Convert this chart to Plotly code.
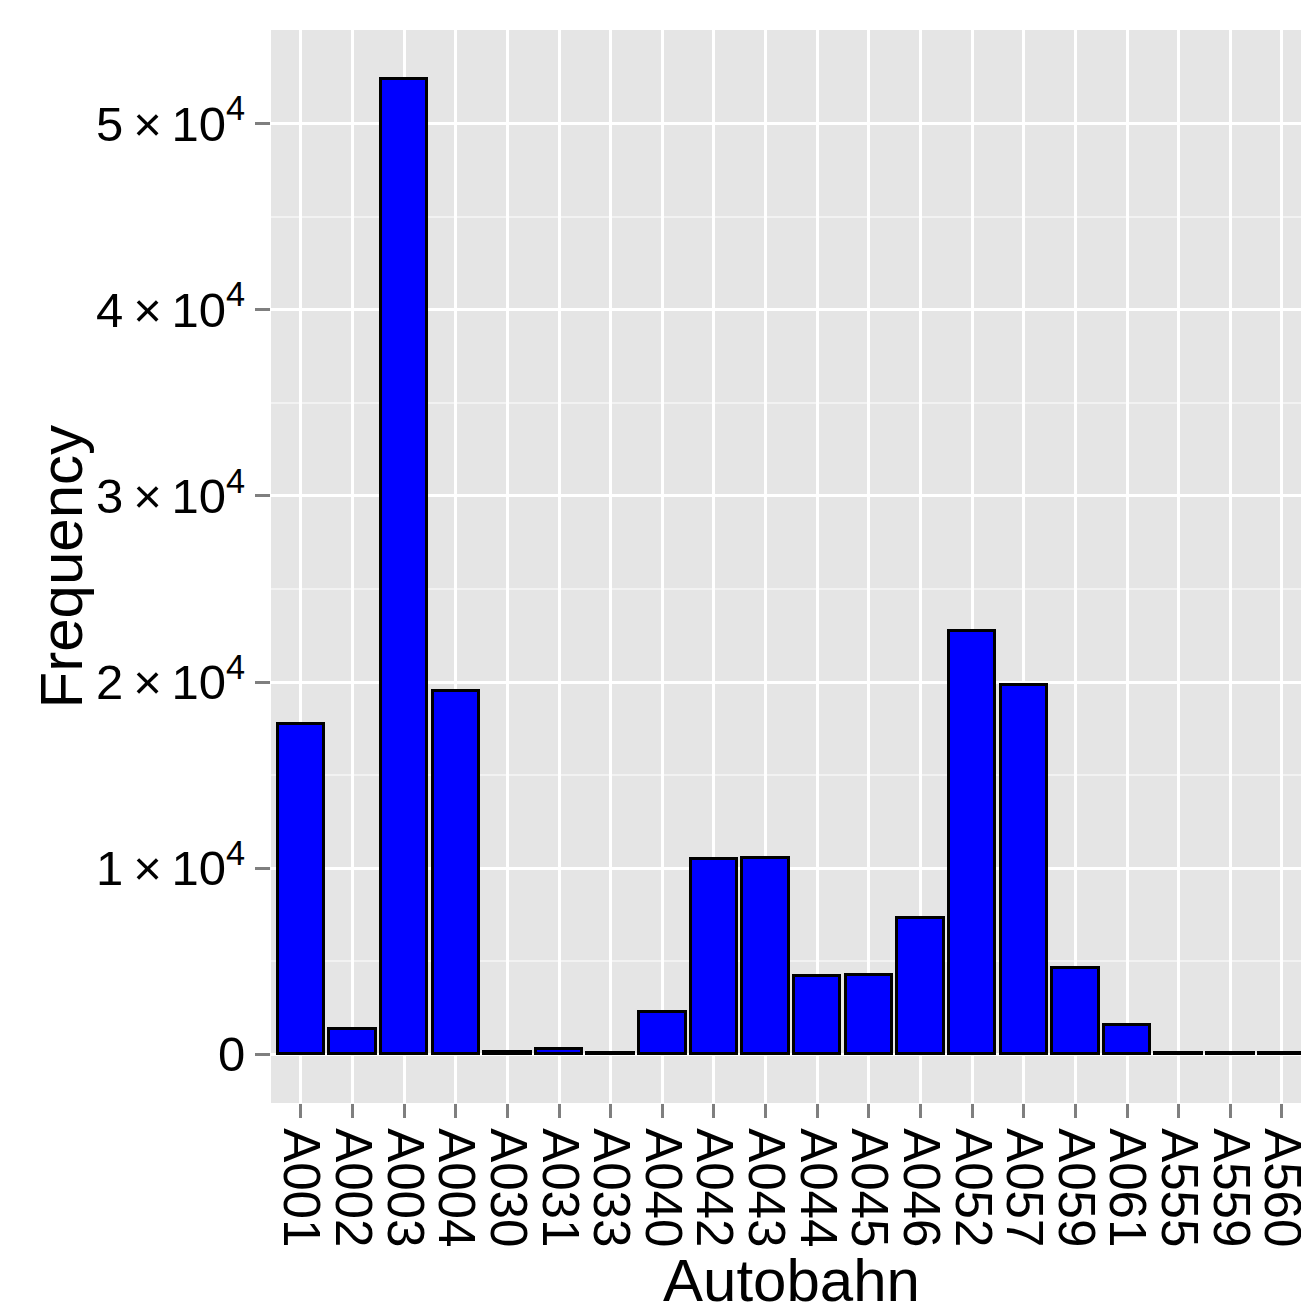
import plotly.graph_objects as go

categories = ["A001", "A002", "A003", "A004", "A030", "A031", "A033", "A040", "A042", "A043",
              "A044", "A045", "A046", "A052", "A057", "A059", "A061", "A555", "A559", "A560"]
frequency = [17720, 1340, 52420, 19500, 100, 270, 90, 2260, 10470, 10530,
             4190, 4240, 7300, 22770, 19820, 4620, 1560, 40, 40, 40]

ytick_vals = [0, 10000, 20000, 30000, 40000, 50000]
ytick_text = ["0", "1\u2009×\u200910<sup>4</sup>", "2\u2009×\u200910<sup>4</sup>",
              "3\u2009×\u200910<sup>4</sup>", "4\u2009×\u200910<sup>4</sup>",
              "5\u2009×\u200910<sup>4</sup>"]

FONT = "Liberation Sans, Arial, Helvetica, sans-serif"

fig = go.Figure(go.Bar(
    x=categories, y=frequency, width=0.9,
    marker=dict(color="#0000FF", line=dict(color="black", width=3)),
))

fig.update_layout(
    width=1301, height=1306,
    margin=dict(l=271, r=0, t=30, b=203, autoexpand=False),
    paper_bgcolor="white", plot_bgcolor="#E5E5E5",
    font=dict(family=FONT, color="black"),
    showlegend=False, bargap=0,
    annotations=[
        dict(text="Autobahn", xref="paper", yref="paper", x=0.505, y=-0.165,
             xanchor="center", yanchor="middle", showarrow=False,
             font=dict(size=60, color="black")),
        dict(text="Frequency", xref="paper", yref="paper", x=-0.203, y=0.5,
             xanchor="center", yanchor="middle", showarrow=False, textangle=-90,
             font=dict(size=60, color="black")),
    ],
)
fig.update_xaxes(
    type="category", range=[-0.58, 19.37], tickmode="linear", dtick=1, tick0=0,
    showgrid=True, gridcolor="white", gridwidth=3,
    ticks="outside", ticklen=14, tickwidth=3, tickcolor="#7F7F7F",
    tickangle=90, tickfont=dict(size=51, color="black"),
    zeroline=False, showline=False, automargin=False,
)
fig.update_yaxes(
    range=[-2621, 55041],
    tickvals=ytick_vals, ticktext=ytick_text,
    showgrid=True, gridcolor="white", gridwidth=3,
    minor=dict(dtick=5000, tick0=0, showgrid=True, gridcolor="#F2F2F2", gridwidth=1.5, ticks=""),
    ticks="outside", ticklen=15, tickwidth=3, tickcolor="#7F7F7F",
    tickfont=dict(size=49, color="black"),
    zeroline=False, showline=False, automargin=False,
)

fig.write_html("out.html", config={"displayModeBar": False},
               post_script="document.body.style.margin='0';document.body.style.overflow='hidden';")
